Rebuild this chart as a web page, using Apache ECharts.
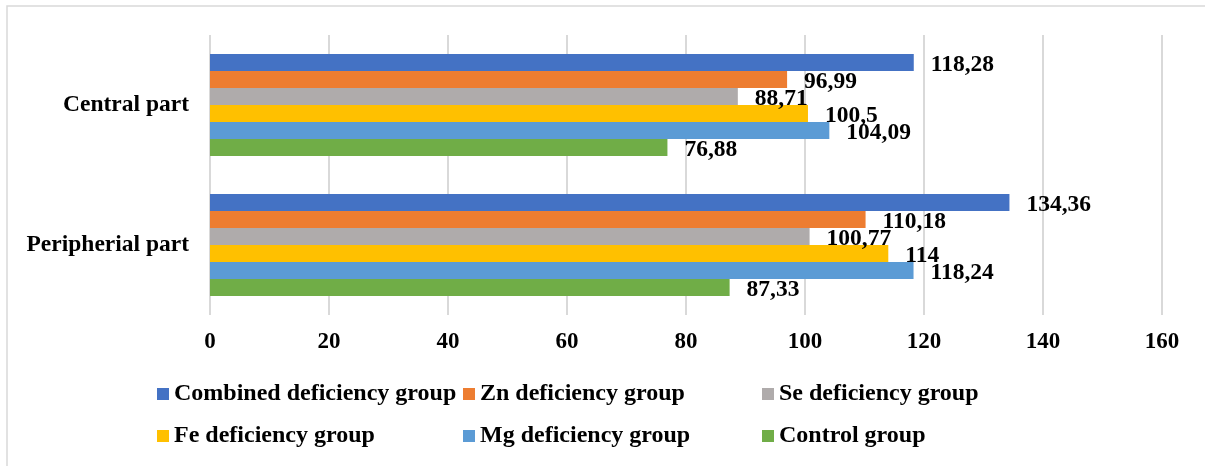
<!DOCTYPE html>
<html>
<head>
<meta charset="utf-8">
<script src="https://cdn.jsdelivr.net/npm/echarts@6/dist/echarts.min.js"></script>
<style>
html,body{margin:0;padding:0;background:#fff;}
#chart{width:1205px;height:466px;}
</style>
</head>
<body>
<div id="chart"></div>
<script>
const categories = ['Peripherial part', 'Central part'];
const seriesNames = ['Combined deficiency group', 'Zn deficiency group', 'Se deficiency group', 'Fe deficiency group', 'Mg deficiency group', 'Control group'];
const combined = [134.36, 118.28];
const zn = [110.18, 96.99];
const se = [100.77, 88.71];
const fe = [114, 100.5];
const mg = [118.24, 104.09];
const control = [87.33, 76.88];
const xTicks = [0, 20, 40, 60, 80, 100, 120, 140, 160];

const values = [combined, zn, se, fe, mg, control];
const colors = ['#4472C4', '#ED7D31', '#AFABAB', '#FFC000', '#5B9BD5', '#70AD47'];
const FONT = '"Liberation Serif", "Times New Roman", serif';

const legendPos = [
  {left: 157, top: 382}, {left: 463, top: 382}, {left: 762, top: 382},
  {left: 157, top: 424}, {left: 463, top: 424}, {left: 762, top: 424}
];

const chart = echarts.init(document.getElementById('chart'), null, {renderer: 'canvas'});
const option = {
  animation: false,
  backgroundColor: '#fff',
  graphic: [{
    type: 'rect', silent: true, z: -10,
    shape: {x: 7, y: 6, width: 1400, height: 600},
    style: {fill: 'none', stroke: '#D9D9D9', lineWidth: 1.5}
  }],
  grid: {left: 210, right: 43, top: 35, height: 280, containLabel: false},
  legend: seriesNames.map((n, i) => ({
    data: [n], left: legendPos[i].left, top: legendPos[i].top, padding: 0,
    icon: 'rect', itemWidth: 12, itemHeight: 12, selectedMode: false,
    textStyle: {fontFamily: FONT, fontWeight: 'bold', fontSize: 24, color: '#000', lineHeight: 24}
  })),
  xAxis: {
    type: 'value', min: xTicks[0], max: xTicks[xTicks.length - 1], interval: xTicks[1] - xTicks[0],
    axisLine: {show: false}, axisTick: {show: false},
    splitLine: {show: true, lineStyle: {color: '#D9D9D9', width: 2}},
    axisLabel: {margin: 16, fontFamily: FONT, fontWeight: 'bold', fontSize: 23, color: '#000'}
  },
  yAxis: {
    type: 'category', data: categories,
    axisLine: {show: false}, axisTick: {show: false},
    axisLabel: {margin: 21, fontFamily: FONT, fontWeight: 'bold', fontSize: 23.5, color: '#000'}
  },
  series: seriesNames.map((n, i) => ({
    name: n, type: 'bar', data: values[i], barWidth: 17, barGap: '0%',
    itemStyle: {color: colors[i]},
    label: {
      show: true, position: 'right', distance: 17, offset: [0, 2],
      fontFamily: FONT, fontWeight: 'bold', fontSize: 23.5, color: '#000',
      formatter: p => String(p.value).replace('.', ',')
    }
  }))
};
chart.setOption(option);
</script>
</body>
</html>
